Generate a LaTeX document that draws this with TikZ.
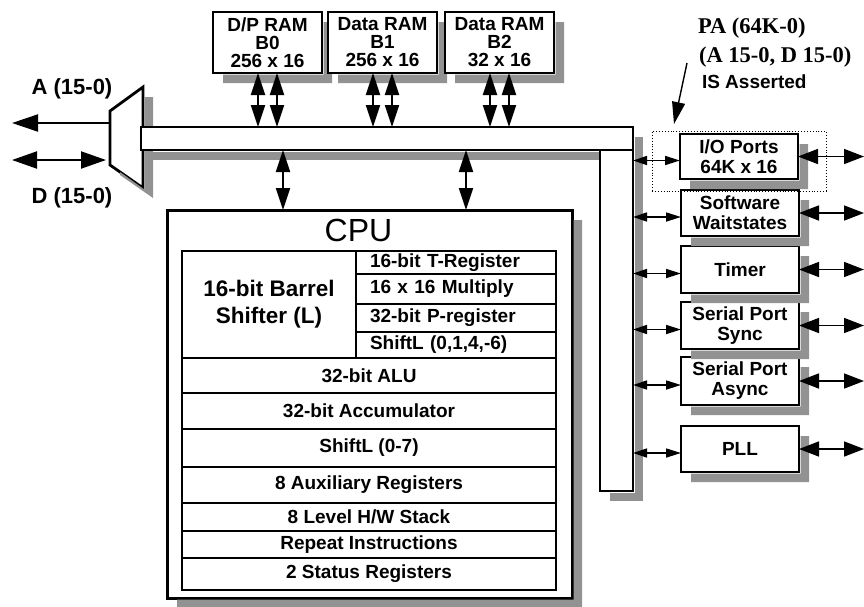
\documentclass[tikz,border=0pt]{standalone}
\usepackage{fontspec}
\setmainfont{Liberation Sans}
\newfontfamily\timesface{Liberation Serif}
\usepackage{tikz}
\usetikzlibrary{positioning, arrows.meta, calc}
\definecolor{shadowgray}{RGB}{146,146,146}
% L-shaped drop shadow on the right and lower side of a block
\newcommand{\castshadow}[1]{%
  \fill[shadowgray] ([shift={(1.5,10)}]#1.north east) -- ([shift={(10,10)}]#1.north east)
    -- ([shift={(10,10)}]#1.south east) -- ([shift={(10,10)}]#1.south west)
    -- ([shift={(10,1.5)}]#1.south west) -- ([shift={(1.5,1.5)}]#1.south east) -- cycle;}

\begin{document}
\begin{tikzpicture}[x=1pt, y=-1pt,
  every node/.style={font=\bfseries\fontsize{19}{20}\selectfont, inner sep=0pt, outer sep=0pt},
  blk/.style={draw, line width=2.8pt, fill=white, align=center},
  mem/.style={blk, minimum width=109pt, minimum height=61pt, font=\bfseries\fontsize{19}{18}\selectfont},
  periph/.style={blk, minimum width=118pt, minimum height=46pt},
  cell/.style={draw, line width=2.4pt, fill=white, align=center},
  rowcell/.style={cell, minimum width=374pt},
  subcell/.style={cell, minimum width=200pt, text width=172pt, align=left},
  memarr/.style={{Triangle[length=22pt,width=14pt]}-{Triangle[length=22pt,width=14pt]}, line width=2pt},
  portarr/.style={{Triangle[length=14pt,width=9pt]}-{Triangle[length=15pt,width=9pt]}, line width=1.6pt},
  pinarr/.style={{Triangle[length=20pt,width=15pt]}-{Triangle[length=20pt,width=15pt]}, line width=1.6pt},
  addrarr/.style={-{Triangle[length=26pt,width=17pt]}, line width=2pt},
  dataarr/.style={{Triangle[length=25pt,width=17pt]}-{Triangle[length=25pt,width=17pt]}, line width=2pt},
  leadarr/.style={-{Triangle[length=22pt,width=13pt]}, line width=1.4pt}]
\useasboundingbox (0,0) rectangle (864,606);
% External bus multiplexer
\coordinate (muxtl) at (110,111);
\coordinate (muxtr) at (143,87);
\coordinate (muxbr) at (143,188);
\coordinate (muxbl) at (110,165);
\draw[line width=2.8pt, fill=white] (muxtl) -- (muxtr) -- (muxbr) -- (muxbl) -- cycle;
\fill[shadowgray] ([shift={(1.5,10)}]muxtr) -- ([shift={(10,10)}]muxtr) -- ([shift={(10,10)}]muxbr)
  -- ([shift={(10,10)}]muxbl) -- ([shift={(10,7)}]muxbl) -- ([shift={(1.5,1.5)}]muxbr) -- cycle;
% Internal bus (horizontal and vertical legs)
\node[blk, minimum width=492pt, minimum height=23pt] (hbus) at (387,138.5) {};
\node[blk, minimum width=33pt, minimum height=341pt] (vbus) at (616.5,320.5) {};
\fill[shadowgray] ([shift={(10,1.5)}]hbus.south west) rectangle ([shift={(-1.5,10)}]vbus.north west);
\fill[shadowgray] ([shift={(1.5,10)}]hbus.north east) rectangle ([shift={(10,10)}]vbus.south east);
\fill[shadowgray] ([shift={(10,1.5)}]vbus.south west) rectangle ([shift={(10,10)}]vbus.south east);
% On-chip memory
\node[mem] (b0) at (267.5,42.5) {D/P RAM\\B0\\256 x 16};
\castshadow{b0}
\node[mem] (b1) at (382.5,42.5) {Data RAM\\B1\\256 x 16};
\castshadow{b1}
\node[mem] (b2) at (499.5,42.5) {Data RAM\\B2\\32 x 16};
\castshadow{b2}
\foreach \m in {b0,b1,b2} {
  \draw[memarr] ([xshift=-9.5pt]\m.south) -- ([xshift=-9.5pt]\m.south |- hbus.north);
  \draw[memarr] ([xshift=9.5pt]\m.south) -- ([xshift=9.5pt]\m.south |- hbus.north);
}
% CPU
\node[blk, line width=3pt, minimum width=405pt, minimum height=388pt] (cpu) at (369.5,404) {};
\castshadow{cpu}
\node[font=\fontsize{32}{34}\selectfont] (cpuname) at (358.5,230) {CPU};
\draw[memarr] ([xshift=-86.5pt]cpu.north |- hbus.south) -- ([xshift=-86.5pt]cpu.north);
\draw[memarr] ([xshift=96.5pt]cpu.north |- hbus.south) -- ([xshift=96.5pt]cpu.north);
% CPU internals
\node[cell, minimum width=174pt, minimum height=107pt, font=\bfseries\fontsize{22.5}{27}\selectfont] (barrel) at (269,304.5) {16-bit Barrel\\Shifter (L)};
\node[subcell, minimum height=23pt] (treg) at (456,262.5) {16-bit T-Register};
\node[subcell, minimum height=30pt] (mul) at (456,289) {16 x 16 Multiply};
\node[subcell, minimum height=28pt] (preg) at (456,318) {32-bit P-register};
\node[subcell, minimum height=26pt] (shfa) at (456,345) {ShiftL (0,1,4,-6)};
\node[rowcell, minimum height=35pt] (alu) at (369,375.5) {32-bit ALU};
\node[rowcell, minimum height=36pt] (acc) at (369,411) {32-bit Accumulator};
\node[rowcell, minimum height=38pt] (shfb) at (369,448) {ShiftL (0-7)};
\node[rowcell, minimum height=36pt] (aux) at (369,485) {8 Auxiliary Registers};
\node[rowcell, minimum height=28pt] (stk) at (369,517) {8 Level H/W Stack};
\node[rowcell, minimum height=27pt] (rpt) at (369,544.5) {Repeat Instructions};
\node[rowcell, minimum height=32pt] (sts) at (369,574) {2 Status Registers};
% Peripherals
\node[periph, minimum height=45pt] (io) at (739,156.5) {I/O Ports\\64K x 16};
\node[periph] (sw) at (740,213) {Software\\Waitstates};
\node[periph, minimum height=47pt] (tmr) at (740,269.5) {Timer};
\node[periph, minimum height=47pt] (ssp) at (740,325.5) {Serial Port\\Sync};
\node[periph, minimum height=48pt] (asp) at (740,381) {Serial Port\\Async};
\node[periph] (pll) at (740,449) {PLL};
\foreach \p in {io,sw,tmr,ssp,asp,pll} {
  \castshadow{\p}
}
\node[draw, dotted, line width=0.9pt, minimum width=174pt, minimum height=60pt] (iogrp) at (739,161) {};
\coordinate (rim) at (864,0);
\foreach \p in {io,sw,tmr,ssp,asp,pll} {
  \draw[portarr] ([yshift=-4pt]vbus.east |- \p.west) -- ([yshift=-4pt]\p.west);
  \draw[pinarr] (\p.east) -- (\p.east -| rim);
}
% External address / data
\coordinate (aport) at (110,123);
\coordinate (aend) at (12,123);
\coordinate (dport) at (106,160);
\coordinate (dend) at (12,160);
\draw[addrarr] (aport) -- (aend);
\draw[dataarr] (dend) -- (dport);
\node[font=\bfseries\fontsize{22}{24}\selectfont] (alab) at (72,89) {A (15-0)};
\node[font=\bfseries\fontsize{22}{24}\selectfont] (dlab) at (72,198) {D (15-0)};
% I/O space note
\node[anchor=west, font=\timesface\bfseries\fontsize{22.5}{24}\selectfont] (pa1) at (698,28) {PA (64K-0)};
\node[anchor=west, font=\timesface\bfseries\fontsize{22.5}{24}\selectfont] (pa2) at (699,57) {(A 15-0, D 15-0)};
\node[anchor=west] (pa3) at (702,82) {IS Asserted};
\coordinate (pafoot) at (687,63);
\coordinate (patip) at (674,124);
\draw[leadarr] (pafoot) -- (patip);
\end{tikzpicture}
\end{document}
